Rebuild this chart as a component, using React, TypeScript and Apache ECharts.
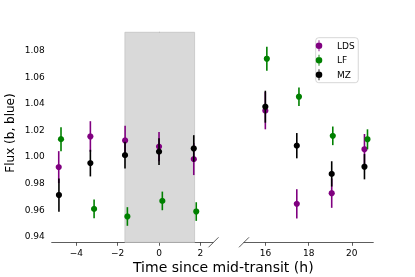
import React, { useEffect, useRef } from "react";
import * as echarts from "echarts";

// ---- data ----
const seriesNames = ["LDS", "LF", "MZ"];
const seriesColors = ["#800080", "#008000", "#000000"];

const ldsTime = [-4.85, -3.32, -1.64, 0.0, 1.68, 15.99, 17.45, 19.07, 20.59];
const ldsFlux = [0.992, 1.015, 1.012, 1.0074, 0.998, 1.0344, 0.9644, 0.9724, 1.0054];
const ldsErr = [0.012, 0.0115, 0.011, 0.011, 0.012, 0.014, 0.011, 0.011, 0.0115];

const lfTime = [-4.74, -3.14, -1.53, 0.16, 1.8, 16.06, 17.55, 19.12, 20.73];
const lfFlux = [1.013, 0.9606, 0.9549, 0.9666, 0.9586, 1.0734, 1.0449, 1.0155, 1.0129];
const lfErr = [0.009, 0.007, 0.007, 0.007, 0.007, 0.009, 0.007, 0.007, 0.0075];

const mzTime = [-4.84, -3.32, -1.645, 0.0, 1.68, 15.99, 17.45, 19.07, 20.59];
const mzFlux = [0.971, 0.995, 1.001, 1.0036, 1.006, 1.0374, 1.0081, 0.9869, 0.9923];
const mzErr = [0.0125, 0.01, 0.01, 0.01, 0.01, 0.012, 0.0095, 0.0095, 0.0095];

const transitStart = -1.65;
const transitEnd = 1.72;

const yTicks = [0.94, 0.96, 0.98, 1.0, 1.02, 1.04, 1.06, 1.08];
const xTicksLeft = [-4, -2, 0, 2];
const xTicksRight = [16, 18, 20];
const panelSplit = 10;

const FONT = "DejaVu Sans";

export default function App() {
  const ref = useRef<HTMLDivElement>(null);

  useEffect(() => {
    if (!ref.current) return;
    const chart = echarts.init(ref.current, undefined, { renderer: "svg" });

    const allSeries = [
      { t: ldsTime, f: ldsFlux, e: ldsErr },
      { t: lfTime, f: lfFlux, e: lfErr },
      { t: mzTime, f: mzFlux, e: mzErr },
    ];

    const makeRender = (color: string) => (params: any, api: any) => {
      const x = api.value(0);
      const y = api.value(1);
      const e = api.value(2);
      const top = api.coord([x, y + e]);
      const bot = api.coord([x, y - e]);
      const c = api.coord([x, y]);
      return {
        type: "group",
        children: [
          {
            type: "line",
            shape: { x1: top[0], y1: top[1], x2: bot[0], y2: bot[1] },
            style: { stroke: color, lineWidth: 1.6 },
          },
          {
            type: "circle",
            shape: { cx: c[0], cy: c[1], r: 3.1 },
            style: { fill: color },
          },
        ],
      };
    };

    const series: any[] = [];
    allSeries.forEach((s, i) => {
      [0, 1].forEach((panel) => {
        const data = s.t
          .map((t, k) => [t, s.f[k], s.e[k]])
          .filter((d) => (panel === 0 ? d[0] < panelSplit : d[0] >= panelSplit));
        const ser: any = {
          type: "custom",
          name: seriesNames[i],
          xAxisIndex: panel,
          yAxisIndex: panel,
          itemStyle: { color: seriesColors[i] },
          encode: { x: 0, y: 1 },
          renderItem: makeRender(seriesColors[i]),
          data,
          z: 3 + i,
        };
        if (i === 0 && panel === 0) {
          ser.markArea = {
            silent: true,
            itemStyle: { color: "#d9d9d9", borderColor: "#c4c4c4", borderWidth: 0.8 },
            data: [[{ xAxis: transitStart }, { xAxis: transitEnd }]],
          };
        }
        series.push(ser);
      });
    });

    const axisLine = { show: true, lineStyle: { color: "#333", width: 0.8 } };
    const axisTick = { show: true, length: 3.5, lineStyle: { color: "#333", width: 0.8 } };
    const minus = (v: number) => (v < 0 ? "\u2212" + Math.abs(v) : String(v));

    const legendIcon =
      "path://M2.6,0 L3.4,0 L3.4,10 L2.6,10 Z M0,5 A3,3 0 1 1 6,5 A3,3 0 1 1 0,5 Z";

    chart.setOption({
      animation: false,
      grid: [
        { left: 51.7, top: 32.3, width: 161.3, height: 210 },
        { left: 244, top: 32.3, width: 129.3, height: 210 },
      ],
      xAxis: [
        {
          type: "value",
          gridIndex: 0,
          min: -5.19,
          max: 2.61,
          axisLine,
          axisTick: { ...axisTick, customValues: xTicksLeft },
          axisLabel: {
            customValues: xTicksLeft,
            formatter: (v: number) => minus(v),
            fontSize: 9,
            fontFamily: FONT,
            color: "#000",
            margin: 6,
          },
          splitLine: { show: false },
        },
        {
          type: "value",
          gridIndex: 1,
          min: 15,
          max: 21,
          axisLine,
          axisTick: { ...axisTick, customValues: xTicksRight },
          axisLabel: {
            customValues: xTicksRight,
            formatter: (v: number) => minus(v),
            fontSize: 9,
            fontFamily: FONT,
            color: "#000",
            margin: 6,
          },
          splitLine: { show: false },
        },
      ],
      yAxis: [
        {
          type: "value",
          gridIndex: 0,
          min: 0.9355,
          max: 1.0933,
          axisLine,
          axisTick: { ...axisTick, customValues: yTicks },
          axisLabel: {
            customValues: yTicks,
            formatter: (v: number) => v.toFixed(2),
            fontSize: 9,
            fontFamily: FONT,
            color: "#000",
            margin: 7,
          },
          splitLine: { show: false },
        },
        {
          type: "value",
          gridIndex: 1,
          min: 0.9355,
          max: 1.0933,
          show: false,
          splitLine: { show: false },
        },
      ],
      legend: {
        orient: "vertical",
        left: 315.7,
        top: 37.7,
        itemWidth: 26,
        itemHeight: 11,
        itemGap: 3.5,
        padding: [2.5, 3.6, 2.5, 0],
        backgroundColor: "#fff",
        borderColor: "#ccc",
        borderWidth: 0.8,
        borderRadius: 3,
        textStyle: { fontSize: 9, fontFamily: FONT, color: "#000" },
        data: seriesNames.map((n) => ({ name: n, icon: legendIcon })),
      },
      graphic: [
        {
          type: "line",
          shape: { x1: 208.5, y1: 247.3, x2: 218.5, y2: 237.3 },
          style: { stroke: "#333", lineWidth: 0.8 },
        },
        {
          type: "line",
          shape: { x1: 239, y1: 247.3, x2: 249, y2: 237.3 },
          style: { stroke: "#333", lineWidth: 0.8 },
        },
        {
          type: "text",
          x: 10,
          y: 133,
          rotation: Math.PI / 2,
          style: {
            text: "Flux (b, blue)",
            fontSize: 12,
            fontFamily: FONT,
            fill: "#000",
            align: "center",
            verticalAlign: "middle",
          },
        },
        {
          type: "text",
          x: 223.3,
          y: 267,
          style: {
            text: "Time since mid-transit (h)",
            fontSize: 14,
            fontFamily: FONT,
            fill: "#000",
            align: "center",
            verticalAlign: "middle",
          },
        },
      ],
      series,
    });

    return () => chart.dispose();
  }, []);

  return (
    <div
      ref={ref}
      style={{ position: "fixed", left: 0, top: 0, width: 415, height: 277 }}
    />
  );
}
